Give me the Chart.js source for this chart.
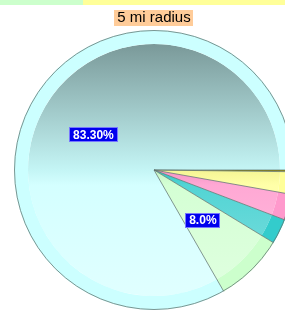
<!DOCTYPE html>
<html>
<head>
<meta charset="utf-8">
<script src="https://cdn.jsdelivr.net/npm/chart.js@4/dist/chart.umd.min.js"></script>
<style>
  html, body { margin: 0; padding: 0; background: #ffffff; overflow: hidden; width: 285px; height: 310px; }
  #wrap { position: relative; width: 285px; height: 310px; overflow: hidden; }
  #strip { position: absolute; left: 0; top: 0; height: 5px; width: 285px; display: flex; z-index: 2; }
  #strip div { height: 5px; }
  canvas { position: absolute; left: 0; top: 0; }
</style>
</head>
<body>
<div id="wrap">
  <div id="strip"><div style="width:83px;background:#ccffcc"></div><div style="width:202px;background:#ffff99"></div></div>
  <canvas id="c" width="308" height="310"></canvas>
</div>
<script>
const titleText = '5 mi radius';
const categories = ['Other', 'Group E', 'Group D', 'Group C', 'Group B', 'Group A'];
const values = [0.2, 2.6, 3.0, 2.9, 8.0, 83.3];
const pctLabels = ['', '', '', '', '8.0%', '83.30%'];
const sliceColors = ['#998800', '#ffff99', '#ff99cc', '#33cccc', '#ccffcc', '#ccffff'];

function hexToRgb(h) {
  const n = parseInt(h.slice(1), 16);
  return [(n >> 16) & 255, (n >> 8) & 255, n & 255];
}
function shade(h, f) {
  const [r, g, b] = hexToRgb(h);
  return `rgb(${Math.round(r * f)},${Math.round(g * f)},${Math.round(b * f)})`;
}
function tint(h, f) {
  const [r, g, b] = hexToRgb(h);
  return `rgb(${Math.round(r + (255 - r) * f)},${Math.round(g + (255 - g) * f)},${Math.round(b + (255 - b) * f)})`;
}

function innerFill(ctx) {
  const base = sliceColors[ctx.dataIndex];
  const chart = ctx.chart;
  const a = chart.chartArea;
  if (!a) return base;
  const cy = (a.top + a.bottom) / 2;
  const r = Math.min(a.right - a.left, a.bottom - a.top) / 2 * 0.9;
  const g = chart.ctx.createLinearGradient(0, cy - r, 0, cy + r);
  g.addColorStop(0, shade(base, 0.6));
  g.addColorStop(0.5, shade(base, 0.96));
  g.addColorStop(0.56, tint(base, 0.15));
  g.addColorStop(1, tint(base, 0.4));
  return g;
}

const titleFont = '15px "Liberation Sans", Arial, sans-serif';

const titleBg = {
  id: 'titleBg',
  beforeDraw(chart) {
    const tb = chart.titleBlock;
    if (!tb) return;
    const ctx = chart.ctx;
    ctx.save();
    ctx.font = titleFont;
    const w = ctx.measureText(titleText).width + 6;
    const cx = (tb.left + tb.right) / 2;
    ctx.fillStyle = '#ffcc99';
    ctx.fillRect(Math.round(cx - w / 2), tb.top + 10, Math.round(w), 16);
    ctx.restore();
  }
};

const pieDeco = {
  id: 'pieDeco',
  afterDatasetsDraw(chart) {
    const ctx = chart.ctx;
    const outer = chart.getDatasetMeta(0).data;
    if (!outer.length) return;
    const R = outer[0].outerRadius;
    const x0 = outer[0].x, y0 = outer[0].y;
    ctx.save();
    ctx.strokeStyle = 'rgba(95,115,110,0.75)';
    ctx.lineWidth = 1;
    outer.forEach(el => {
      ctx.beginPath();
      ctx.moveTo(x0, y0);
      ctx.lineTo(x0 + Math.cos(el.startAngle) * R, y0 + Math.sin(el.startAngle) * R);
      ctx.stroke();
    });
    ctx.beginPath();
    ctx.arc(x0, y0, R - 0.5, 0, Math.PI * 2);
    ctx.stroke();

    ctx.font = 'bold 12px "Liberation Sans", Arial, sans-serif';
    ctx.textAlign = 'center';
    ctx.textBaseline = 'middle';
    outer.forEach((el, i) => {
      const t = pctLabels[i];
      if (!t) return;
      const mid = (el.startAngle + el.endAngle) / 2;
      const x = x0 + Math.cos(mid) * R * 0.5;
      const y = y0 + Math.sin(mid) * R * 0.5;
      const w = ctx.measureText(t).width + 8;
      const h = 15;
      ctx.fillStyle = '#0000ee';
      ctx.fillRect(Math.round(x - w / 2), Math.round(y - h / 2), Math.round(w), h);
      ctx.strokeStyle = '#7777ff';
      ctx.strokeRect(Math.round(x - w / 2) + 0.5, Math.round(y - h / 2) + 0.5, Math.round(w) - 1, h - 1);
      ctx.fillStyle = '#ffffff';
      ctx.fillText(t, x, y + 0.5);
    });
    ctx.restore();
  }
};

new Chart(document.getElementById('c'), {
  type: 'pie',
  data: {
    labels: categories,
    datasets: [
      { data: values, backgroundColor: sliceColors, borderWidth: 0, weight: 1, hoverOffset: 0 },
      { data: values, backgroundColor: innerFill, borderWidth: 0, weight: 9, hoverOffset: 0 }
    ]
  },
  options: {
    responsive: false,
    devicePixelRatio: 1,
    animation: false,
    rotation: 90,
    events: [],
    layout: { padding: 0 },
    plugins: {
      legend: { display: false },
      tooltip: { enabled: false },
      title: {
        display: true,
        text: titleText,
        color: '#000000',
        font: { size: 15, family: '"Liberation Sans", Arial, sans-serif', weight: 'normal', lineHeight: 1.2 },
        padding: { top: 9, bottom: 3 }
      }
    }
  },
  plugins: [titleBg, pieDeco]
});
</script>
</body>
</html>
